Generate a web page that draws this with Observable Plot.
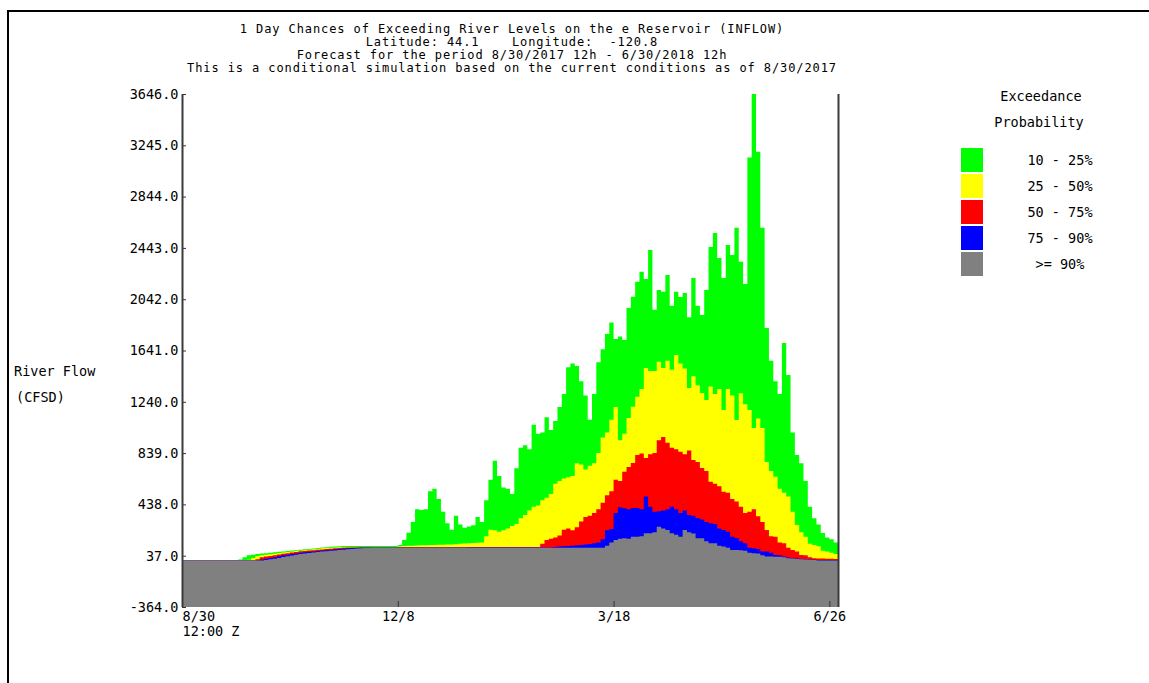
<!DOCTYPE html>
<html>
<head>
<meta charset="utf-8">
<script src="https://cdn.jsdelivr.net/npm/d3@7"></script>
<script src="https://cdn.jsdelivr.net/npm/@observablehq/plot@0.6"></script>
<style>
  html, body { margin: 0; padding: 0; background: #fff; }
  body {
    width: 1149px; height: 683px; position: relative; overflow: hidden;
    font-family: "DejaVu Sans Mono", monospace; font-size: 13.5px; color: #000;
  }
  .frame {
    position: absolute; left: 7px; top: 10px; right: -10px; bottom: -10px;
    border-top: 2px solid #000; border-left: 2px solid #000;
  }
  #chart { position: absolute; left: 0; top: 0; }
  .title {
    position: absolute; left: 0; width: 1024px; top: 23px;
    text-align: center; font-size: 12px; letter-spacing: 0.9px;
    line-height: 13px; white-space: pre;
  }
  .ylab { position: absolute; white-space: pre; line-height: 14px; }
  .legend-head { position: absolute; width: 120px; text-align: center; white-space: pre; line-height: 14px; }
  .swatch { position: absolute; left: 961px; width: 22px; height: 24px; }
  .legend-label { position: absolute; left: 1000px; width: 120px; text-align: center; white-space: pre; line-height: 14px; }
</style>
</head>
<body>
<div class="frame"></div>
<div id="chart"></div>
<div class="title" id="title"></div>
<div class="ylab" style="left:14px; top:364px;">River Flow</div>
<div class="ylab" style="left:16px; top:390px;">(CFSD)</div>
<div id="legend"></div>
<script>
// Forecast start and sampling (one value every 2 days)
const startDate = Date.UTC(2017, 7, 30, 12);
const endDate = Date.UTC(2018, 5, 30, 12);
const stepDays = 2;

// Flow (CFSD) at each exceedance level, one value per 2-day step from 8/30
const p10 = [
  0,0,0,0,0,0,0,0,0,0,
  0,0,4,8,25,40,45,50,54,57,
  60,63,67,70,73,77,80,84,87,90,
  94,98,102,104,106,108,110,112,112,112,
  112,112,112,112,112,112,112,112,112,112,
  120,160,217,300,400,395,400,540,560,480,
  380,290,240,350,280,255,265,275,340,300,
  470,630,780,660,570,560,520,720,880,900,
  870,1060,990,1000,1120,1020,1090,1200,1300,1510,
  1540,1520,1400,1290,1100,1300,1550,1650,1770,1860,
  1730,1750,1723,1973,2062,2179,2257,2200,2427,1960,
  2114,2100,2231,1990,2101,2060,2090,1900,2208,1990,
  1919,2114,2450,2560,2364,2208,2466,2388,2600,2335,
  2160,3150,3646,3195,2600,1817,1560,1400,1300,1700,
  1450,1000,825,760,620,420,330,280,215,180,
  165,140,110
];
const p25 = [
  0,0,0,0,0,0,0,0,0,0,
  0,0,0,0,0,5,20,35,40,44,
  48,53,58,62,66,70,73,76,79,83,
  87,91,95,97,99,101,103,104,104,104,
  104,104,104,104,104,104,104,104,104,104,
  110,112,114,115,116,118,118,120,120,122,
  122,124,125,126,130,132,134,136,138,140,
  190,240,235,225,235,250,270,285,330,355,
  390,420,430,470,490,520,600,620,640,650,
  660,760,750,710,740,760,840,960,1000,1100,
  1200,940,990,1114,1202,1280,1340,1504,1480,1480,
  1554,1504,1560,1490,1606,1540,1500,1348,1440,1370,
  1309,1254,1360,1300,1340,1176,1340,1290,1098,1306,
  1220,1176,1035,1110,1035,770,700,655,560,530,
  499,381,277,220,186,130,121,110,75,69,
  60,50,48
];
const p50 = [
  0,0,0,0,0,0,0,0,0,0,
  0,0,0,0,0,0,0,10,25,30,
  35,40,46,52,57,62,66,71,74,77,
  80,83,86,89,92,95,98,100,102,102,
  102,102,102,102,102,102,102,102,102,102,
  103,103,103,103,103,103,103,103,103,103,
  103,103,103,103,103,103,105,105,105,105,
  105,105,105,105,105,105,105,105,105,105,
  105,105,105,130,160,170,180,195,240,250,
  235,260,305,340,350,370,400,450,510,540,
  630,620,694,730,762,825,835,800,830,840,
  940,965,920,880,870,850,830,860,785,770,
  723,700,616,600,580,537,530,480,460,420,
  370,380,400,345,300,238,190,186,140,134,
  100,82,70,43,40,25,17,16,15,14,
  13,12,12
];
const p75 = [
  0,0,0,0,0,0,0,0,0,0,
  0,0,0,0,0,0,0,0,8,14,
  19,25,32,41,45,50,54,60,63,67,
  70,73,77,80,84,87,90,93,95,97,
  99,101,101,101,101,101,101,101,101,101,
  102,102,102,102,102,102,102,102,102,102,
  102,102,102,102,102,102,102,102,102,102,
  102,102,102,102,102,102,102,102,102,102,
  102,102,102,102,102,102,105,108,110,112,
  115,118,120,125,128,135,140,165,235,245,
  370,415,408,400,410,410,400,500,420,380,
  385,390,400,420,400,370,390,356,350,330,
  320,300,291,285,250,238,225,186,175,150,
  134,100,95,90,70,69,60,43,40,30,
  22,20,15,12,10,8,6,4,3,3,
  3,3,3
];
const p90 = [
  0,0,0,0,0,0,0,0,0,0,
  0,0,0,0,0,0,0,0,0,4,
  9,14,20,26,32,38,44,50,54,58,
  62,66,69,72,75,78,81,84,87,90,
  93,95,97,98,99,100,100,100,100,100,
  100,100,100,100,100,100,100,100,100,100,
  100,100,100,100,100,100,100,100,100,100,
  100,100,100,100,100,100,100,100,100,100,
  100,100,100,100,100,100,100,100,100,100,
  100,100,100,100,100,100,100,100,115,140,
  160,170,173,170,186,186,190,212,212,220,
  264,250,238,212,200,186,238,220,210,173,
  173,150,134,134,115,108,100,82,82,80,
  75,60,56,55,40,30,30,28,28,25,
  17,15,12,10,8,6,4,0,0,0,
  0,0,0
];

// Legend / band definitions (top band first)
const bandLabels = ["10 - 25%", "25 - 50%", "50 - 75%", "75 - 90%", ">= 90%"];
const bandColors = ["#00ff00", "#ffff00", "#ff0000", "#0000ff", "#808080"];

// Axis ticks
const yTicks = [-364, 37, 438, 839, 1240, 1641, 2042, 2443, 2844, 3245, 3646];
const xTickDates = ["2017-08-30T12:00Z", "2017-12-08T12:00Z", "2018-03-18T12:00Z", "2018-06-26T12:00Z"];
const xTickLabels = ["8/30", "12/8", "3/18", "6/26"];
const timeLabel = "12:00 Z";

const titleLines = [
  "1 Day Chances of Exceeding River Levels on the e Reservoir (INFLOW)",
  "Latitude: 44.1    Longitude:  -120.8",
  "Forecast for the period 8/30/2017 12h - 6/30/2018 12h",
  "This is a conditional simulation based on the current conditions as of 8/30/2017"
];

document.getElementById("title").textContent = titleLines.join("\n");

const yDomain = [yTicks[0], yTicks[yTicks.length - 1]];
const dates = p10.map((_, i) => new Date(startDate + i * stepDays * 864e5));
const rows = dates.map((d, i) => ({date: d, p10: p10[i], p25: p25[i], p50: p50[i], p75: p75[i], p90: p90[i]}));
const keys = ["p10", "p25", "p50", "p75", "p90"];
const xTicks = xTickDates.map((d, i) => ({date: new Date(d), label: xTickLabels[i]}));

// Each band is filled from the bottom of the frame up to its level; later bands cover earlier ones
const bandMarks = keys.map((k, i) =>
  Plot.areaY(rows, {x: "date", y1: yDomain[0], y2: k, curve: "step-after", fill: bandColors[i]})
);

const chart = Plot.plot({
  width: 1149,
  height: 683,
  marginLeft: 182,
  marginRight: 311,
  marginTop: 94,
  marginBottom: 76,
  style: {fontFamily: "DejaVu Sans Mono, monospace", fontSize: "13.5px", color: "#000", background: "transparent", overflow: "visible"},
  x: {type: "utc", domain: [new Date(startDate), new Date(endDate)], axis: null},
  y: {domain: yDomain, axis: null},
  marks: [
    ...bandMarks,
    Plot.axisY({ticks: yTicks, tickFormat: d => d.toFixed(1), tickSize: -4, tickPadding: 8, stroke: "#333"}),
    Plot.axisX({ticks: xTicks.map(t => t.date), tickSize: -6, tickFormat: () => "", stroke: "#333"}),
    Plot.ruleX([new Date(startDate), new Date(endDate)], {stroke: "#3a3a3a", strokeWidth: 2}),
    Plot.text(xTicks.slice(0, 1), {x: "date", text: "label", frameAnchor: "bottom", textAnchor: "start", lineAnchor: "top", dy: 4}),
    Plot.text(xTicks.slice(1), {x: "date", text: "label", frameAnchor: "bottom", textAnchor: "middle", lineAnchor: "top", dy: 4}),
    Plot.text(xTicks.slice(0, 1), {x: "date", text: () => timeLabel, frameAnchor: "bottom", textAnchor: "start", lineAnchor: "top", dy: 19})
  ]
});
document.getElementById("chart").appendChild(chart);

// Legend
const legend = document.getElementById("legend");
const head1 = document.createElement("div");
head1.className = "legend-head"; head1.style.left = "981px"; head1.style.top = "89px";
head1.textContent = "Exceedance";
const head2 = document.createElement("div");
head2.className = "legend-head"; head2.style.left = "979px"; head2.style.top = "115px";
head2.textContent = "Probability";
legend.append(head1, head2);
bandLabels.forEach((lab, i) => {
  const sw = document.createElement("div");
  sw.className = "swatch";
  sw.style.top = (148 + i * 26) + "px";
  sw.style.background = bandColors[i];
  const tx = document.createElement("div");
  tx.className = "legend-label";
  tx.style.top = (153 + i * 26) + "px";
  tx.textContent = lab;
  legend.append(sw, tx);
});
</script>
</body>
</html>
